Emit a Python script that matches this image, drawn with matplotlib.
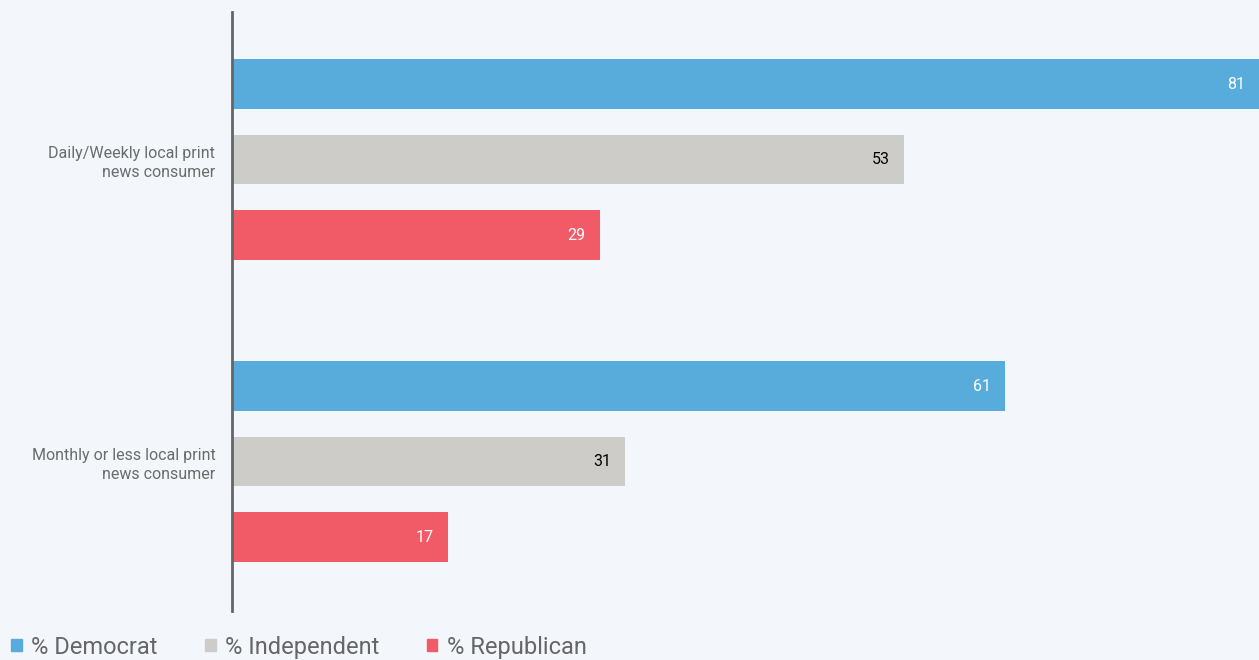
import matplotlib.pyplot as plt
from matplotlib.patches import Patch

# data
categories = ["Daily/Weekly local print\nnews consumer", "Monthly or less local print\nnews consumer"]
series = ["% Democrat", "% Independent", "% Republican"]
democrat = [81, 61]
independent = [53, 31]
republican = [29, 17]

colors = ["#57acdc", "#cdccc9", "#f15a67"]
label_colors = ["white", "black", "white"]
bg = "#f3f6fb"

plt.rcParams["font.family"] = ["Roboto", "DejaVu Sans"]

fig = plt.figure(figsize=(12.59, 6.6), dpi=100, facecolor=bg)
ax = fig.add_axes([232 / 1259, 49 / 660, 1027 / 1259, 599 / 660], facecolor=bg)

values = [democrat, independent, republican]
for j, (name, vals) in enumerate(zip(series, values)):
    ys = [i * 4 + j for i in range(len(categories))]
    ax.barh(ys, vals, height=0.66, color=colors[j], label=name)
    for y, v in zip(ys, vals):
        ax.text(v - 1.1, y, str(v), ha="right", va="center",
                fontsize=11.5, color=label_colors[j])

ax.set_xlim(0, 81)
ax.set_ylim(6.98, -0.954)
ax.set_yticks([i * 4 + 1 for i in range(len(categories))])
ax.set_yticklabels(categories, fontsize=11.5, color="#6b6b6b", linespacing=1.35)
ax.tick_params(axis="y", length=0, pad=12)
ax.set_xticks([])
for s in ["top", "right", "bottom"]:
    ax.spines[s].set_visible(False)
ax.spines["left"].set_color("#666666")
ax.spines["left"].set_linewidth(2)

handles = [Patch(color=c, label=n) for c, n in zip(colors, series)]
fig.legend(handles=handles, loc="lower left", bbox_to_anchor=(-0.008, -0.03),
           ncol=3, frameon=False, fontsize=17, handlelength=0.45,
           handleheight=0.45, handletextpad=0.4, columnspacing=2.0,
           labelcolor="#666666")

fig.savefig("out.png", dpi=100, facecolor=bg)
